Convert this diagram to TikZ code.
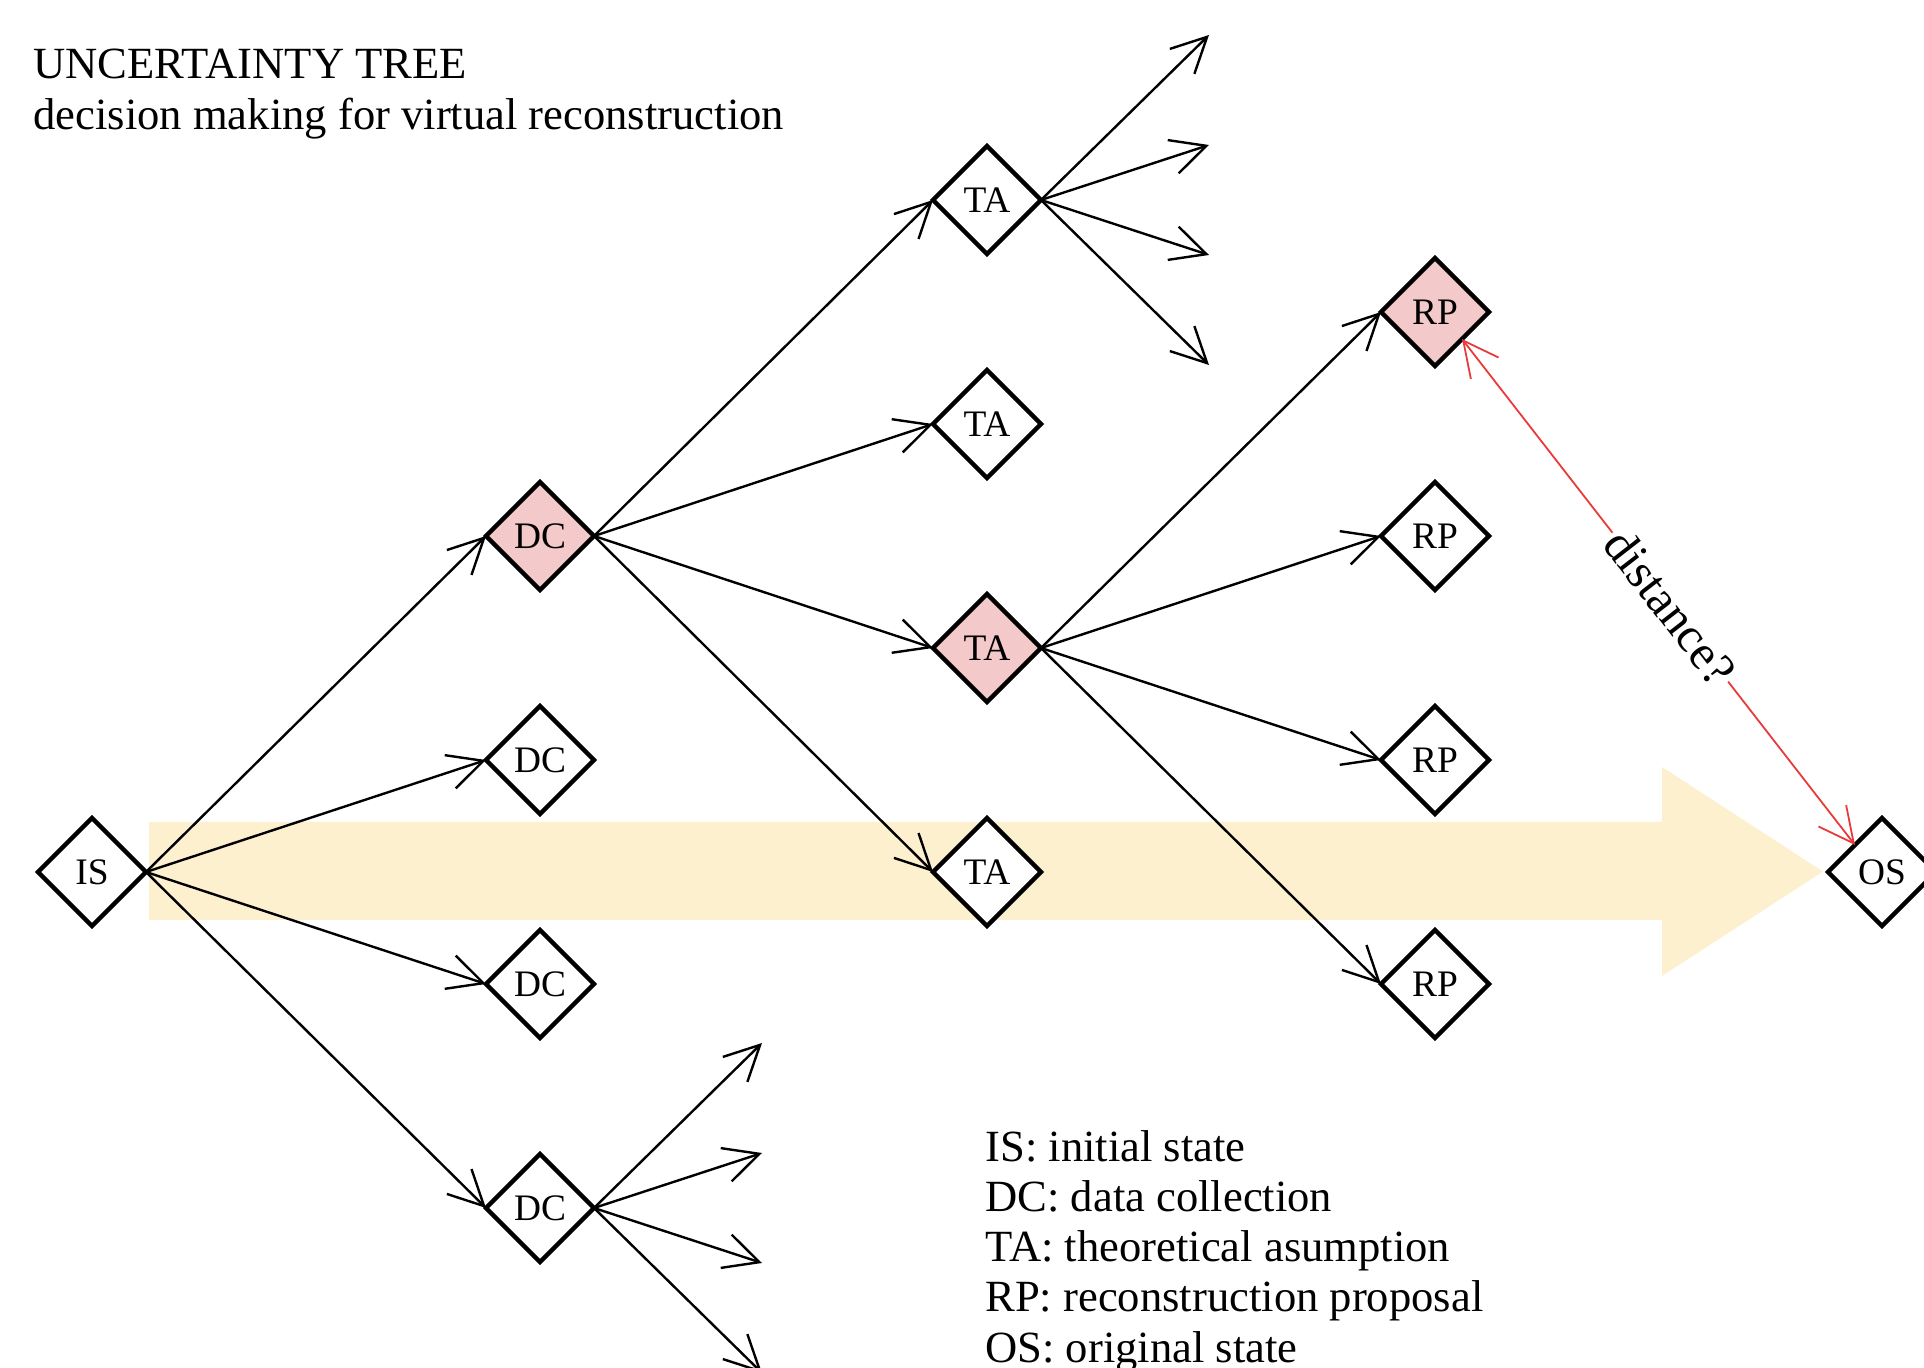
\documentclass[tikz,border=0pt]{standalone}
\usepackage{fontspec}
\setmainfont{Liberation Serif}
\usetikzlibrary{shapes.geometric,arrows.meta}

\definecolor{nodepink}{RGB}{244,201,201}
\definecolor{flowyellow}{RGB}{253,240,207}
\definecolor{distred}{RGB}{232,58,58}

\tikzset{
  dstate/.style={shape=diamond, draw=black, line width=2.2pt, fill=white,
    minimum width=54pt, minimum height=54pt, inner sep=0pt, outer sep=0pt,
    font=\fontsize{18.7}{22}\selectfont},
  chosen/.style={dstate, fill=nodepink},
  branch/.style={line width=1.2pt, line join=miter,
    -{Straight Barb[length=17.5pt,width=17.5pt]}},
  measure/.style={draw=distred, line width=0.9pt,
    {Straight Barb[length=17.5pt,width=17.5pt]}-{Straight Barb[length=17.5pt,width=17.5pt]}},
  textline/.style={anchor=base west, inner sep=0pt,
    font=\fontsize{22.3}{25.2}\selectfont}
}

\begin{document}
\begin{tikzpicture}[x=0.5pt,y=-0.5pt]
\useasboundingbox (0,0) rectangle (1924,1368);

% broad flow arrow from the initial state towards the original state
\fill[flowyellow] (149,822) -- (1662,822) -- (1662,767) -- (1823,871.5)
  -- (1662,976) -- (1662,920) -- (149,920) -- cycle;

% title
\node[textline] (title1) at (33,79) {UNCERTAINTY TREE};
\node[textline] (title2) at (33,130) {decision making for virtual reconstruction};

% tree nodes
\node[dstate] (is) at (92,872) {IS};

\node[chosen] (dc1) at (540,536) {DC};
\node[dstate] (dc2) at (540,760) {DC};
\node[dstate] (dc3) at (540,984) {DC};
\node[dstate] (dc4) at (540,1208) {DC};

\node[dstate] (ta1) at (987,200) {TA};
\node[dstate] (ta2) at (987,424) {TA};
\node[chosen] (ta3) at (987,648) {TA};
\node[dstate] (ta4) at (987,872) {TA};

\node[chosen] (rp1) at (1435,312) {RP};
\node[dstate] (rp2) at (1435,536) {RP};
\node[dstate] (rp3) at (1435,760) {RP};
\node[dstate] (rp4) at (1435,984) {RP};

\node[dstate] (os) at (1882,872) {OS};

% open branch ends
\coordinate (ta1a) at (1209,35);
\coordinate (ta1b) at (1209,145);
\coordinate (ta1c) at (1209,255);
\coordinate (ta1d) at (1209,365);
\coordinate (dc4a) at (762,1043);
\coordinate (dc4b) at (762,1153);
\coordinate (dc4c) at (762,1263);
\coordinate (dc4d) at (762,1373);

% branches
\foreach \t in {dc1,dc2,dc3,dc4} \draw[branch] (is.east) -- (\t.west);
\foreach \t in {ta1,ta2,ta3,ta4} \draw[branch] (dc1.east) -- (\t.west);
\foreach \t in {rp1,rp2,rp3,rp4} \draw[branch] (ta3.east) -- (\t.west);
\foreach \t in {ta1a,ta1b,ta1c,ta1d} \draw[branch] (ta1.east) -- (\t);
\foreach \t in {dc4a,dc4b,dc4c,dc4d} \draw[branch] (dc4.east) -- (\t);

% distance between the proposal and the original state
\draw[measure] (rp1.south east) -- node[pos=0.53, sloped, fill=white,
  inner sep=1.5pt, font=\fontsize{24.5}{28}\selectfont] (dist) {distance?}
  (os.north west);

% legend
\node[textline] (l1) at (985,1161) {IS: initial state};
\node[textline] (l2) at (985,1211.3) {DC: data collection};
\node[textline] (l3) at (985,1261.6) {TA: theoretical asumption};
\node[textline] (l4) at (985,1311.9) {RP: reconstruction proposal};
\node[textline] (l5) at (985,1362.2) {OS: original state};
\end{tikzpicture}
\end{document}
